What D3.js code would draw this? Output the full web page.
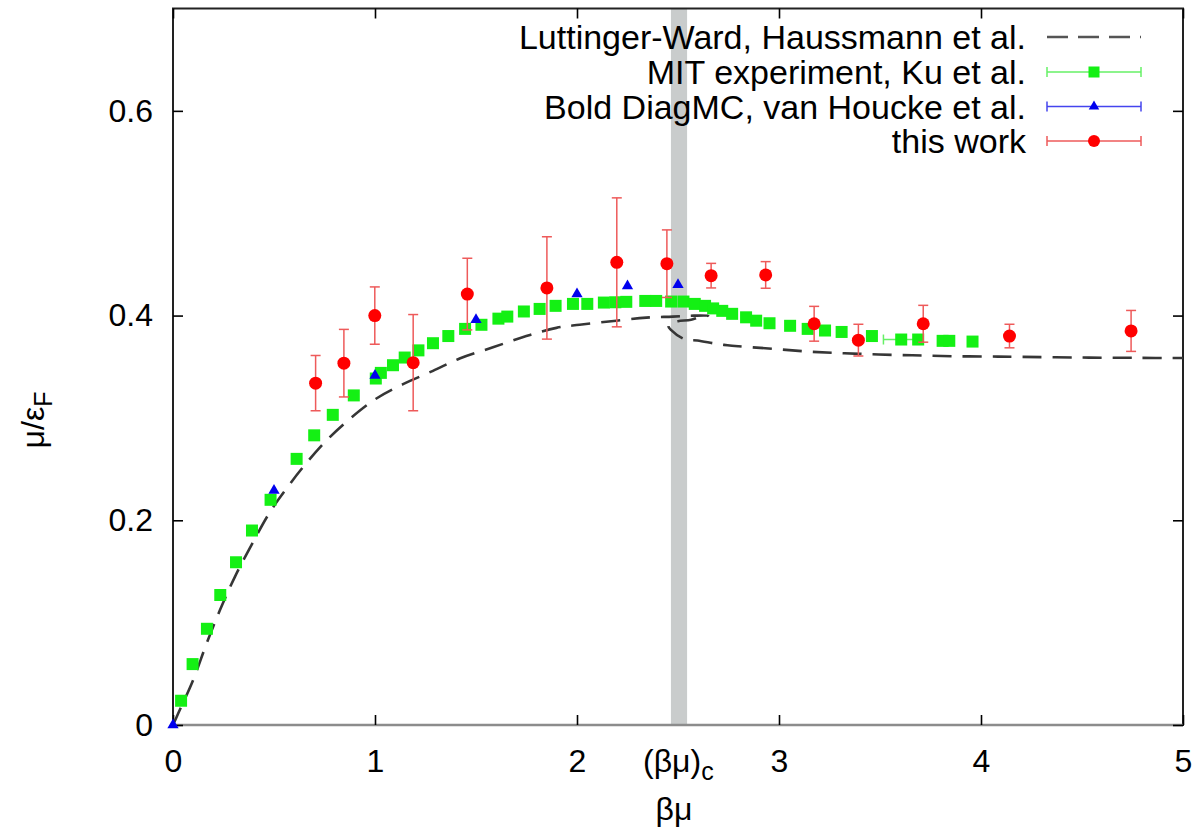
<!DOCTYPE html>
<html><head><meta charset="utf-8">
<script src="https://cdn.jsdelivr.net/npm/d3@7"></script>
<style>
body{margin:0;background:#fff}
svg{display:block}
text{font-family:"Liberation Sans",Arial,Helvetica,sans-serif;fill:#000}
</style>
</head><body>
<svg id="chart" width="1202" height="835"></svg>
<script>
// ---------- data ----------
const xTicks = [0, 1, 2, 3, 4, 5];
const xTickLabels = ["0", "1", "2", "3", "4", "5"];
const yTicks = [0, 0.2, 0.4, 0.6];
const yTickLabels = ["0", "0.2", "0.4", "0.6"];
const criticalLabel = "(βμ)";
const criticalSub = "c";
const bandRange = [2.465, 2.545];

const seriesNames = ["Luttinger-Ward, Haussmann et al.", "MIT experiment, Ku et al.", "Bold DiagMC, van Houcke et al.", "this work"];

// Luttinger-Ward (Haussmann et al.), one continuous curve incl. the back-bending near (βμ)c
const lwX = [0, 0.026, 0.100, 0.167, 0.232, 0.307, 0.397, 0.480, 0.562, 0.644, 0.760, 0.875, 1.007, 1.139, 1.287, 1.419, 1.584, 1.749, 1.898, 2.013, 2.194, 2.343, 2.474, 2.56, 2.65,
             2.60, 2.565, 2.50, 2.466, 2.452, 2.465, 2.532, 2.596, 2.69, 2.745, 2.80, 2.97, 3.13, 3.27, 3.40, 3.56, 3.71, 3.86, 4.03, 4.17, 4.49, 4.78, 5.0];
const lwY = [0, 0.0114, 0.044, 0.080, 0.112, 0.145, 0.179, 0.208, 0.231, 0.252, 0.278, 0.299, 0.319, 0.333, 0.346, 0.358, 0.369, 0.380, 0.388, 0.391, 0.395, 0.398, 0.399, 0.3998, 0.400,
             0.398, 0.396, 0.3945, 0.393, 0.390, 0.386, 0.377, 0.3756, 0.3724, 0.371, 0.370, 0.3675, 0.365, 0.3636, 0.3626, 0.3616, 0.361, 0.3603, 0.360, 0.3597, 0.359, 0.3587, 0.3585];

// MIT experiment (Ku et al.)
const mitX = [0.040, 0.097, 0.168, 0.234, 0.312, 0.391, 0.483, 0.612, 0.699, 0.791, 0.895, 1.004, 1.029, 1.089, 1.147, 1.215, 1.287, 1.363, 1.446, 1.527, 1.611, 1.655, 1.737, 1.815, 1.894,
              1.980, 2.051, 2.133, 2.190, 2.244, 2.338, 2.392, 2.466, 2.527, 2.583, 2.634, 2.674, 2.719, 2.768, 2.837, 2.887, 2.953, 3.055, 3.142, 3.228, 3.310, 3.460, 3.605, 3.689, 3.810, 3.843, 3.958];
const mitY = [0.0237, 0.0595, 0.094, 0.127, 0.159, 0.190, 0.220, 0.260, 0.283, 0.303, 0.322, 0.3385, 0.344, 0.3515, 0.359, 0.366, 0.373, 0.380, 0.387, 0.391, 0.397, 0.399, 0.404, 0.4065, 0.4095,
              0.4114, 0.4114, 0.4127, 0.413, 0.4134, 0.4143, 0.4143, 0.4137, 0.4137, 0.4114, 0.4095, 0.407, 0.4046, 0.4017, 0.3983, 0.395, 0.3925, 0.390, 0.387, 0.3854, 0.384, 0.380, 0.3766, 0.3766, 0.3753, 0.3753, 0.3746];
const mitXErr = [0, 0, 0, 0, 0, 0, 0, 0, 0, 0, 0, 0, 0, 0, 0, 0, 0, 0, 0, 0, 0, 0, 0, 0, 0,
                 0, 0, 0, 0, 0, 0, 0, 0, 0, 0, 0, 0, 0, 0, 0, 0, 0, 0, 0, 0, 0, 0, 0.088, 0, 0, 0, 0];

// Bold DiagMC (van Houcke et al.)
const bdmcX = [0, 0.5, 1.0, 1.5, 2.0, 2.25, 2.5];
const bdmcY = [0, 0.229, 0.3415, 0.396, 0.421, 0.429, 0.430];

// this work
const workX = [0.706, 0.846, 0.999, 1.189, 1.457, 1.851, 2.197, 2.445, 2.664, 2.934, 3.174, 3.393, 3.714, 4.141, 4.743];
const workY = [0.334, 0.3535, 0.400, 0.354, 0.421, 0.427, 0.452, 0.4507, 0.439, 0.4397, 0.392, 0.376, 0.392, 0.380, 0.385];
const workErr = [0.027, 0.033, 0.028, 0.047, 0.035, 0.050, 0.063, 0.033, 0.012, 0.013, 0.017, 0.0155, 0.018, 0.0115, 0.020];

// ---------- drawing ----------
const svg = d3.select("#chart");
const x = d3.scaleLinear().domain([0, 5]).range([173, 1183]);
const y = d3.scaleLinear().domain([0, 0.7]).range([725, 8.5]);

const C = {lw: "#363636", mit: "#14f014", mitBar: "#66f066", bd: "#0000ee", bdBar: "#4444ee", work: "#ff0000", workBar: "#ee5a5a"};
const FS = 32, LFS = 34, SQ = 12;

// critical band
svg.append("rect")
  .attr("x", x(bandRange[0])).attr("y", y(0.7))
  .attr("width", x(bandRange[1]) - x(bandRange[0])).attr("height", y(0) - y(0.7))
  .attr("fill", "#c9cccc");

// frame
svg.append("rect").attr("x", x(0)).attr("y", y(0.7)).attr("width", x(5) - x(0)).attr("height", y(0) - y(0.7))
  .attr("fill", "none").attr("stroke", "#222").attr("stroke-width", 2);
svg.append("line").attr("x1", x(0)).attr("x2", x(5)).attr("y1", y(0)).attr("y2", y(0))
  .attr("stroke", "#8c8c8c").attr("stroke-width", 2.6);

function styleAxis(g) {
  g.select(".domain").remove();
  g.selectAll(".tick line").attr("stroke", "#000").attr("stroke-width", 1.6);
  g.selectAll(".tick text").attr("font-size", FS).attr("font-family", '"Liberation Sans",Arial,sans-serif').attr("fill", "#000");
}
svg.append("g").attr("transform", `translate(0,${y(0)})`)
  .call(d3.axisBottom(x).tickValues(xTicks).tickSize(-10).tickPadding(24).tickFormat((d, i) => xTickLabels[i]))
  .call(styleAxis);
svg.append("g").attr("transform", `translate(0,${y(0.7)})`)
  .call(d3.axisTop(x).tickValues(xTicks).tickSize(-10).tickFormat(""))
  .call(styleAxis);
svg.append("g").attr("transform", `translate(${x(0)},0)`)
  .call(d3.axisLeft(y).tickValues(yTicks).tickSize(-10).tickPadding(20).tickFormat((d, i) => yTickLabels[i]))
  .call(styleAxis);
svg.append("g").attr("transform", `translate(${x(5)},0)`)
  .call(d3.axisRight(y).tickValues(yTicks).tickSize(-10).tickFormat(""))
  .call(styleAxis);

// (βμ)c label
const cl = svg.append("text").attr("x", 643).attr("y", 772).attr("font-size", FS);
cl.append("tspan").text(criticalLabel);
cl.append("tspan").attr("dy", 8).attr("font-size", 25).text(criticalSub);

// axis titles
svg.append("text").attr("x", 674).attr("y", 820).attr("text-anchor", "middle").attr("font-size", FS).text("βμ");
const yt = svg.append("text").attr("transform", "translate(44,420) rotate(-90)").attr("text-anchor", "middle").attr("font-size", FS);
yt.append("tspan").text("μ/ε");
yt.append("tspan").attr("dy", 8).attr("font-size", 25).text("F");

// Luttinger-Ward curve
const lwData = lwX.map((v, i) => [v, lwY[i]]);
svg.append("path").datum(lwData)
  .attr("d", d3.line().x(d => x(d[0])).y(d => y(d[1])).curve(d3.curveCatmullRom.alpha(0.5)))
  .attr("fill", "none").attr("stroke", C.lw).attr("stroke-width", 2.6).attr("stroke-dasharray", "19,11");

// MIT
const mitData = mitX.map((v, i) => ({x: v, y: mitY[i], e: mitXErr[i]}));
const mitErr = svg.append("g").attr("stroke", C.mitBar).attr("stroke-width", 1.5);
mitData.filter(d => d.e > 0).forEach(d => {
  mitErr.append("line").attr("x1", x(d.x - d.e)).attr("x2", x(d.x + d.e)).attr("y1", y(d.y)).attr("y2", y(d.y));
  [d.x - d.e, d.x + d.e].forEach(xx => mitErr.append("line").attr("x1", x(xx)).attr("x2", x(xx)).attr("y1", y(d.y) - 5).attr("y2", y(d.y) + 5));
});
svg.append("g").selectAll("rect").data(mitData).join("rect")
  .attr("x", d => x(d.x) - SQ / 2).attr("y", d => y(d.y) - SQ / 2).attr("width", SQ).attr("height", SQ)
  .attr("fill", C.mit);

// Bold DiagMC
svg.append("g").selectAll("path").data(bdmcX.map((v, i) => ({x: v, y: bdmcY[i]}))).join("path")
  .attr("d", d3.symbol(d3.symbolTriangle, 55))
  .attr("transform", d => `translate(${x(d.x)},${y(d.y)})`)
  .attr("fill", C.bd);

// this work
const workData = workX.map((v, i) => ({x: v, y: workY[i], e: workErr[i]}));
const we = svg.append("g").attr("stroke", C.workBar).attr("stroke-width", 1.5);
workData.forEach(d => {
  we.append("line").attr("x1", x(d.x)).attr("x2", x(d.x)).attr("y1", y(d.y - d.e)).attr("y2", y(d.y + d.e));
  [d.y - d.e, d.y + d.e].forEach(yy => we.append("line").attr("x1", x(d.x) - 5).attr("x2", x(d.x) + 5).attr("y1", y(yy)).attr("y2", y(yy)));
});
svg.append("g").selectAll("circle").data(workData).join("circle")
  .attr("cx", d => x(d.x)).attr("cy", d => y(d.y)).attr("r", 6.5).attr("fill", C.work);

// legend
const legRows = [37, 72, 106.5, 141];
const lx0 = 1047, lx1 = 1141, lxm = 1094;
const leg = svg.append("g");
seriesNames.forEach((name, i) => {
  leg.append("text").attr("x", 1026).attr("y", legRows[i] + 12).attr("text-anchor", "end").attr("font-size", LFS).text(name);
});
leg.append("line").attr("x1", lx0).attr("x2", lx1).attr("y1", legRows[0]).attr("y2", legRows[0])
  .attr("stroke", "#555").attr("stroke-width", 2.5).attr("stroke-dasharray", "21,10");
[[C.mitBar, 1], [C.bdBar, 2], [C.workBar, 3]].forEach(([col, i]) => {
  const yy = legRows[i];
  leg.append("line").attr("x1", lx0).attr("x2", lx1).attr("y1", yy).attr("y2", yy).attr("stroke", col).attr("stroke-width", 1.5);
  [lx0, lx1].forEach(xx => leg.append("line").attr("x1", xx).attr("x2", xx).attr("y1", yy - 5).attr("y2", yy + 5).attr("stroke", col).attr("stroke-width", 1.5));
});
leg.append("rect").attr("x", lxm - 5.5).attr("y", legRows[1] - 5.5).attr("width", 11).attr("height", 11).attr("fill", C.mit);
leg.append("path").attr("d", d3.symbol(d3.symbolTriangle, 48)).attr("transform", `translate(${lxm},${legRows[2]})`).attr("fill", C.bd);
leg.append("circle").attr("cx", lxm).attr("cy", legRows[3]).attr("r", 6).attr("fill", C.work);
</script>
</body></html>
